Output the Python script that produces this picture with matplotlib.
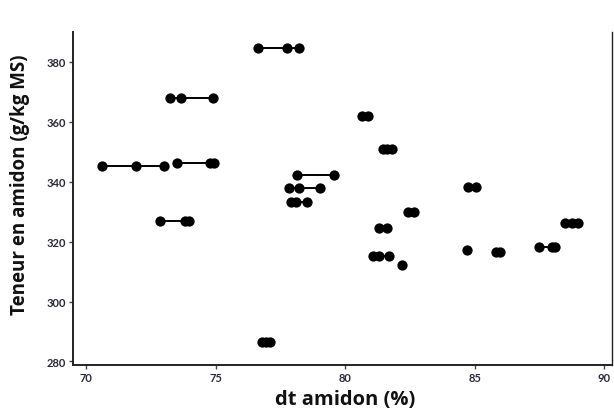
import matplotlib
matplotlib.use("Agg")
import matplotlib.pyplot as plt
import numpy as np

# one group per row of linked points (same starch content)
lot = [1, 1, 1,
       2, 2, 2,
       3, 3, 3,
       4, 4, 4,
       5, 5,
       6, 6, 6,
       7, 7, 7,
       8, 8, 8,
       9, 9, 9,
       10, 10,
       11, 11, 11,
       12, 12,
       13, 13,
       14, 14, 14,
       15,
       16, 16,
       17,
       18, 18,
       19, 19, 19,
       20, 20, 20]
dt_amidon = [76.64, 77.74, 78.22,
             73.24, 73.65, 74.92,
             70.63, 71.93, 73.02,
             73.53, 74.79, 74.94,
             78.13, 79.58,
             77.84, 78.24, 79.04,
             77.9, 78.1, 78.52,
             72.87, 73.82, 73.99,
             76.8, 76.95, 77.1,
             80.64, 80.9,
             81.45, 81.62, 81.8,
             82.41, 82.64,
             81.29, 81.63,
             81.07, 81.29, 81.71,
             82.21,
             84.76, 85.05,
             84.7,
             85.83, 85.98,
             87.5, 87.98, 88.1,
             88.5, 88.75, 89.0]
teneur = [384.6, 384.6, 384.6,
          367.9, 367.9, 367.9,
          345.3, 345.3, 345.3,
          346.1, 346.1, 346.1,
          342.3, 342.3,
          338.0, 338.0, 338.0,
          333.2, 333.2, 333.2,
          326.9, 326.9, 326.9,
          286.5, 286.5, 286.5,
          362.0, 362.0,
          350.9, 350.9, 350.9,
          330.0, 330.0,
          324.5, 324.5,
          315.3, 315.3, 315.3,
          312.3,
          338.1, 338.1,
          317.2,
          316.4, 316.4,
          318.3, 318.3, 318.3,
          326.2, 326.2, 326.2]

lot = np.array(lot)
dt_amidon = np.array(dt_amidon)
teneur = np.array(teneur)

fig = plt.figure(figsize=(6.14, 4.14), dpi=100)
ax = fig.add_axes([73 / 614, 48 / 414, 539 / 614, 333 / 414])

for g in np.unique(lot):
    m = lot == g
    ax.plot(dt_amidon[m], teneur[m], '-o', color='black', lw=1.4,
            markersize=7.4, markeredgewidth=0)

ax.set_xlim(69.5, 90.3)
ax.set_ylim(278.8, 390)
ax.set_xticks([70, 75, 80, 85, 90])
ax.set_yticks([280, 300, 320, 340, 360, 380])

ax.spines['top'].set_visible(False)
for s in ['left', 'bottom', 'right']:
    ax.spines[s].set_linewidth(1.4)
    ax.spines[s].set_color('#222222')
ax.spines['right'].set_linewidth(1.0)

ax.tick_params(axis='both', length=3, width=1, color='#444444',
               labelsize=8, labelcolor='#2a2a38', pad=2)
for t in ax.get_xticklabels() + ax.get_yticklabels():
    t.set_fontfamily('Lato')
    t.set_fontweight('bold')

ax.set_xlabel('dt amidon (%)', fontsize=14.5, fontweight='bold',
              family='Open Sans', color='#111111')
ax.set_ylabel('Teneur en amidon (g/kg MS)', fontsize=13.5, fontweight='bold',
              family='Open Sans', color='#111111')
ax.xaxis.set_label_coords(0.505, -0.072)
ax.yaxis.set_label_coords(-0.08, 0.544)

fig.savefig('out.png', dpi=100)
